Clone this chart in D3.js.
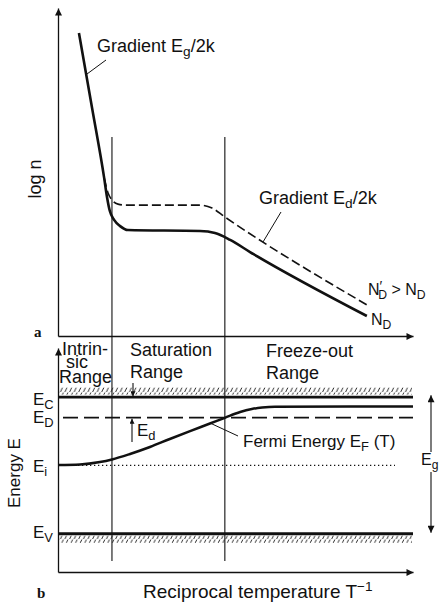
<!DOCTYPE html>
<html><head><meta charset="utf-8">
<script src="https://cdn.jsdelivr.net/npm/d3@7"></script>
<style>
html,body{margin:0;padding:0;background:#fff;}
svg{display:block;}
text{font-family:"Liberation Sans",Arial,Helvetica,sans-serif;fill:#111;font-size:17px;}
</style></head><body>
<svg id="chart" width="439" height="602"></svg>
<script>
// Panel a: carrier density (log n) against reciprocal temperature
const recipT_ND  = [0.59, 0.96, 1.30, 1.38, 1.46, 1.58, 1.75, 1.97, 4.00, 4.42, 4.85, 5.41, 8.70];
const logn_ND    = [9.24, 6.95, 4.82, 4.24, 3.81, 3.54, 3.35, 3.23, 3.20, 3.14, 2.93, 2.56, 0.61];
const recipT_NDp = [1.30, 1.41, 1.52, 1.69, 1.92, 4.00, 4.34, 4.70, 8.70];
const logn_NDp   = [4.82, 4.36, 4.15, 4.02, 3.99, 3.99, 3.90, 3.63, 0.95];

// Range boundaries (intrinsic | saturation | freeze-out)
const rangeBounds = [1.52, 4.70];

// Panel b: band levels and Fermi energy
const levelNames  = ["C", "D", "i", "V"];
const levelEnergy = [1.00, 0.85, 0.50, 0.00];
const fermiRecipT = [0.00, 0.62, 1.18, 1.52, 2.03, 2.59, 3.15, 3.72, 4.28, 4.70, 5.13, 5.46, 5.75, 6.11, 10.0];
const fermiE      = [0.503, 0.507, 0.525, 0.544, 0.584, 0.635, 0.694, 0.752, 0.807, 0.849, 0.891, 0.913, 0.924, 0.930, 0.932];

const svg = d3.select("#chart");
const ink = "#111";

const x    = d3.scaleLinear().domain([0, 10]).range([58, 413]);
const yTop = d3.scaleLinear().domain([0, 10]).range([336, 8]);
const yBot = d3.scaleLinear().domain([-0.28, 1.36]).range([572, 348]);

// markers
const defs = svg.append("defs");
function marker(id, len, wid) {
  defs.append("marker").attr("id", id)
    .attr("viewBox", "0 0 10 10").attr("refX", 10).attr("refY", 5)
    .attr("markerUnits", "userSpaceOnUse")
    .attr("markerWidth", len).attr("markerHeight", wid)
    .attr("orient", "auto")
    .append("path").attr("d", "M0,0L10,5L0,10z").attr("fill", ink);
}
marker("arrow", 11, 7);
marker("arrowSmall", 7, 5);
const hatch = defs.append("pattern").attr("id", "hatch")
  .attr("patternUnits", "userSpaceOnUse").attr("width", 4.6).attr("height", 7);
hatch.append("line").attr("x1", 0.6).attr("y1", 7).attr("x2", 3.6).attr("y2", 0.5)
  .attr("stroke", ink).attr("stroke-width", 0.9);

// axes (no ticks, arrowed)
function axis(g, gen) {
  g.call(gen.tickValues([]).tickSizeOuter(0));
  g.select(".domain").attr("stroke", ink).attr("stroke-width", 1.3).attr("marker-end", "url(#arrow)");
}
svg.append("g").attr("transform", `translate(58,0)`).call(g => axis(g, d3.axisLeft(yTop)));
svg.append("g").attr("transform", `translate(0,${yTop(0)})`).call(g => axis(g, d3.axisBottom(x)));
svg.append("g").attr("transform", `translate(58,0)`).call(g => axis(g, d3.axisLeft(yBot)));
svg.append("g").attr("transform", `translate(0,${yBot(-0.28)})`).call(g => axis(g, d3.axisBottom(x)));

// range boundaries through both panels
svg.selectAll(".bound").data(rangeBounds).join("line")
  .attr("x1", d => x(d)).attr("x2", d => x(d))
  .attr("y1", yTop(6.07)).attr("y2", yBot(-0.2))
  .attr("stroke", ink).attr("stroke-width", 1.1);

// log n curves
const lineTop = d3.line().x(d => x(d[0])).y(d => yTop(d[1])).curve(d3.curveMonotoneX);
svg.append("path").attr("d", lineTop(d3.zip(recipT_NDp, logn_NDp)))
  .attr("fill", "none").attr("stroke", ink).attr("stroke-width", 1.6).attr("stroke-dasharray", "9,4");
svg.append("path").attr("d", lineTop(d3.zip(recipT_ND, logn_ND)))
  .attr("fill", "none").attr("stroke", ink).attr("stroke-width", 2.6);

// text with sub/superscripts: parts = [[text, mode]]
function label(g, xx, yy, parts, opts = {}) {
  const t = g.append("text").attr("x", xx).attr("y", yy);
  if (opts.size) t.style("font-size", opts.size + "px");
  if (opts.anchor) t.attr("text-anchor", opts.anchor);
  if (opts.transform) t.attr("transform", opts.transform);
  let shift = 0;
  parts.forEach(([s, mode]) => {
    const ts = t.append("tspan").text(s);
    let target = 0;
    if (mode === "sub") { ts.style("font-size", "0.76em"); target = 4; }
    if (mode === "sup") { ts.style("font-size", "0.72em"); target = -7; }
    if (target !== shift) { ts.attr("dy", target - shift); shift = target; }
  });
  return t;
}

// panel a labels
label(svg, 97, 52, [["Gradient E"], ["g", "sub"], ["/2k"]], { size: 18 });
svg.append("line").attr("x1", 106).attr("y1", 60).attr("x2", 87).attr("y2", 74).attr("stroke", ink).attr("stroke-width", 1);
label(svg, 259, 204, [["Gradient E"], ["d", "sub"], ["/2k"]], { size: 18 });
svg.append("line").attr("x1", 281).attr("y1", 212).attr("x2", 263).attr("y2", 242).attr("stroke", ink).attr("stroke-width", 1);
const ndp = svg.append("text").attr("x", 368).attr("y", 295).style("font-size", "16px");
ndp.append("tspan").text("N");
ndp.append("tspan").attr("dy", -4).style("font-size", "0.9em").text("\u2032");
ndp.append("tspan").attr("dx", -4).attr("dy", 8).style("font-size", "0.76em").text("D");
ndp.append("tspan").attr("dy", -4).text(" > N");
ndp.append("tspan").attr("dy", 4).style("font-size", "0.76em").text("D");
label(svg, 371, 325, [["N"], ["D", "sub"]], { size: 16 });
label(svg, 0, 0, [["log n"]], { anchor: "middle", size: 18, transform: "translate(41,179) rotate(-90)" });
svg.append("text").attr("x", 34).attr("y", 337)
  .style("font-family", "'Liberation Serif','Times New Roman',serif").style("font-weight", "bold").style("font-size", "15px").text("a");

// panel b: hatched band edges
const ecY = yBot(levelEnergy[0]), evY = yBot(levelEnergy[3]);
svg.append("rect").attr("x", 58).attr("width", 354).attr("y", ecY - 9.5).attr("height", 7).attr("fill", "url(#hatch)");
svg.append("rect").attr("x", 58).attr("width", 354).attr("y", evY + 2).attr("height", 7).attr("fill", "url(#hatch)");
svg.append("line").attr("x1", 58).attr("x2", x(10)).attr("y1", ecY).attr("y2", ecY).attr("stroke", ink).attr("stroke-width", 2.8);
svg.append("line").attr("x1", 58).attr("x2", x(10)).attr("y1", evY).attr("y2", evY).attr("stroke", ink).attr("stroke-width", 2.8);
// donor level (dashed) and intrinsic level (dotted)
svg.append("line").attr("x1", 63).attr("x2", x(10)).attr("y1", yBot(levelEnergy[1])).attr("y2", yBot(levelEnergy[1]))
  .attr("stroke", ink).attr("stroke-width", 1.7).attr("stroke-dasharray", "15,6");
svg.append("line").attr("x1", 58).attr("x2", 395).attr("y1", yBot(levelEnergy[2])).attr("y2", yBot(levelEnergy[2]))
  .attr("stroke", ink).attr("stroke-width", 1.3).attr("stroke-dasharray", "1.3,2.7");

// Fermi energy
const lineBot = d3.line().x(d => x(d[0])).y(d => yBot(d[1])).curve(d3.curveMonotoneX);
svg.append("path").attr("d", lineBot(d3.zip(fermiRecipT, fermiE)))
  .attr("fill", "none").attr("stroke", ink).attr("stroke-width", 2.5);

// level labels
const levelBase = [405, 423, 472, 538];
levelNames.forEach((n, i) => label(svg, 33, levelBase[i], [["E"], [n, "sub"]]));
label(svg, 0, 0, [["Energy E"]], { anchor: "middle", transform: "translate(20,473) rotate(-90)" });

// range titles
label(svg, 62, 355, [["Intrin-"]], { size: 18 });
label(svg, 66, 368, [["sic"]], { size: 18 });
label(svg, 59, 383, [["Range"]], { size: 18 });
label(svg, 130, 356, [["Saturation"]], { size: 18 });
label(svg, 130, 378, [["Range"]], { size: 18 });
label(svg, 266, 357, [["Freeze-out"]], { size: 18 });
label(svg, 266, 379, [["Range"]], { size: 18 });

// small arrows
svg.append("line").attr("x1", 133).attr("x2", 133).attr("y1", 383).attr("y2", ecY - 1)
  .attr("stroke", ink).attr("stroke-width", 1.1).attr("marker-end", "url(#arrowSmall)");
svg.append("line").attr("x1", 132).attr("x2", 132).attr("y1", 442).attr("y2", yBot(levelEnergy[1]) + 1)
  .attr("stroke", ink).attr("stroke-width", 1.1).attr("marker-end", "url(#arrowSmall)");
label(svg, 137, 436, [["E"], ["d", "sub"]]);

label(svg, 243, 447, [["Fermi Energy E"], ["F", "sub"], [" (T)"]]);
svg.append("line").attr("x1", 210).attr("y1", 423).attr("x2", 238).attr("y2", 436).attr("stroke", ink).attr("stroke-width", 1);

// band gap arrow
svg.append("line").attr("x1", 431).attr("x2", 431).attr("y1", 452).attr("y2", ecY - 2)
  .attr("stroke", ink).attr("stroke-width", 1.1).attr("marker-end", "url(#arrow)");
svg.append("line").attr("x1", 431).attr("x2", 431).attr("y1", 472).attr("y2", evY - 1)
  .attr("stroke", ink).attr("stroke-width", 1.1).attr("marker-end", "url(#arrow)");
label(svg, 421, 465, [["E"], ["g", "sub"]], { size: 16 });

label(svg, 143, 598, [["Reciprocal temperature T"], ["\u22121", "sup"]], { size: 19 });
svg.append("text").attr("x", 37).attr("y", 598)
  .style("font-family", "'Liberation Serif','Times New Roman',serif").style("font-weight", "bold").style("font-size", "15px").text("b");
</script>
</body></html>
